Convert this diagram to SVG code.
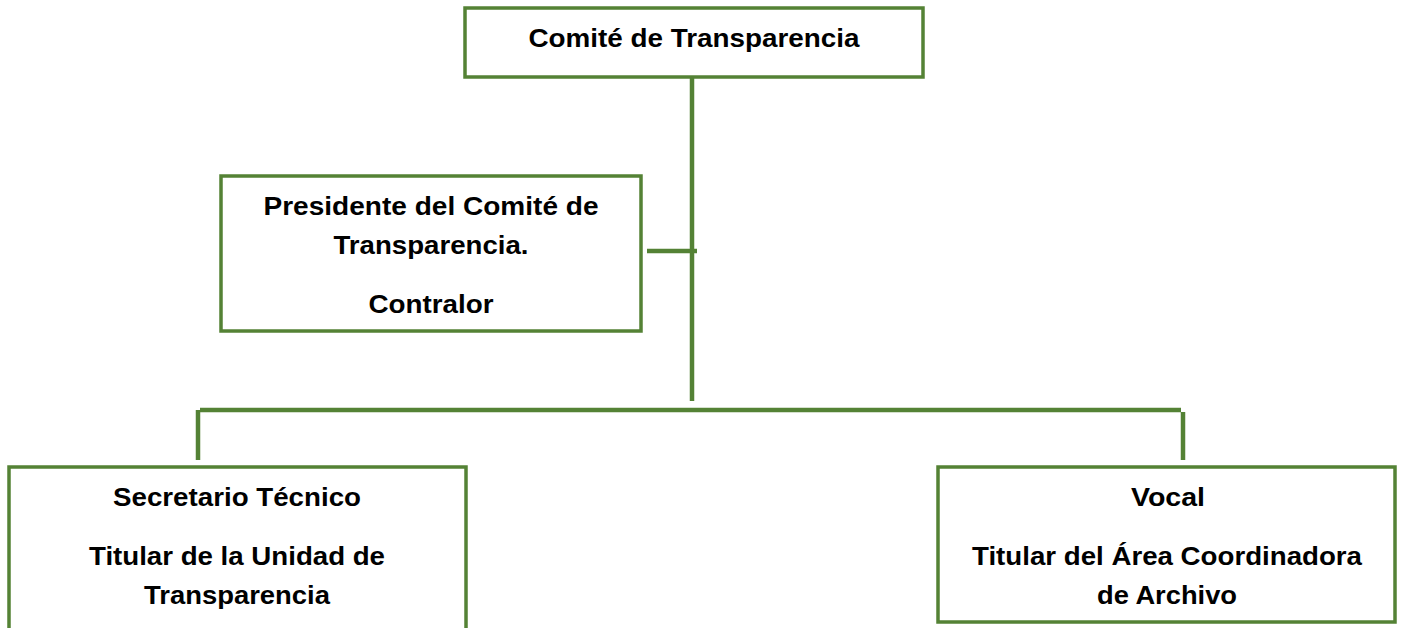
<svg xmlns="http://www.w3.org/2000/svg" width="1403" height="628" viewBox="0 0 1403 628">
<style>
.box{fill:#fff;stroke:#548235;stroke-width:3.5}
.ln{stroke:#548235;stroke-width:4.5;fill:none}
text{font-family:"Liberation Sans",Arial,sans-serif;font-weight:bold;font-size:25px;fill:#000;text-anchor:middle}
</style>
<rect width="1403" height="628" fill="#fff"/>
<g id="connectors">
<line class="ln" x1="692" y1="77" x2="692" y2="401"/>
<line class="ln" x1="647" y1="251" x2="697" y2="251"/>
<line class="ln" x1="200" y1="410" x2="1181" y2="410"/>
<polyline class="ln" points="198,460 198,410"/>
<polyline class="ln" points="1183,460 1183,412"/>
</g>
<g id="comite">
<rect class="box" x="465" y="8" width="458" height="69"/>
<text x="694" y="47" textLength="331" lengthAdjust="spacingAndGlyphs">Comité de Transparencia</text>
</g>
<g id="presidente">
<rect class="box" x="221" y="176" width="420" height="155"/>
<text x="431" y="215" textLength="335" lengthAdjust="spacingAndGlyphs">Presidente del Comité de</text>
<text x="431" y="254" textLength="195" lengthAdjust="spacingAndGlyphs">Transparencia.</text>
<text x="431" y="313" textLength="125" lengthAdjust="spacingAndGlyphs">Contralor</text>
</g>
<g id="secretario">
<rect class="box" x="9" y="467" width="457" height="170"/>
<text x="237" y="506" textLength="248" lengthAdjust="spacingAndGlyphs">Secretario Técnico</text>
<text x="237" y="565" textLength="296" lengthAdjust="spacingAndGlyphs">Titular de la Unidad de</text>
<text x="237" y="604" textLength="186" lengthAdjust="spacingAndGlyphs">Transparencia</text>
</g>
<g id="vocal">
<rect class="box" x="938" y="467" width="457" height="155"/>
<text x="1168" y="506" textLength="74" lengthAdjust="spacingAndGlyphs">Vocal</text>
<text x="1167" y="565" textLength="390" lengthAdjust="spacingAndGlyphs">Titular del Área Coordinadora</text>
<text x="1167" y="604" textLength="140" lengthAdjust="spacingAndGlyphs">de Archivo</text>
</g>
</svg>
